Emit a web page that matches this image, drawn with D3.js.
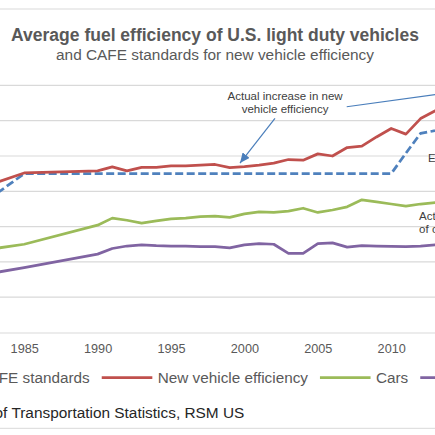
<!DOCTYPE html>
<html>
<head>
<meta charset="utf-8">
<script src="https://cdn.jsdelivr.net/npm/d3@7"></script>
<style>
body{margin:0;background:#fff;}
svg{display:block;font-family:"Liberation Sans",Arial,sans-serif;}
</style>
</head>
<body>
<svg id="viewer"></svg>
<script>
var years = [1980,1985,1990,1991,1992,1993,1994,1995,1996,1997,1998,1999,2000,2001,2002,2003,2004,2005,2006,2007,2008,2009,2010,2011,2012,2013,2014];
var cafeStandard = [20.0,27.5,27.5,27.5,27.5,27.5,27.5,27.5,27.5,27.5,27.5,27.5,27.5,27.5,27.5,27.5,27.5,27.5,27.5,27.5,27.5,27.5,27.5,30.4,33.2,33.6,34.2];
var newVehicle = [24.0,27.6,27.9,28.45,27.9,28.4,28.4,28.6,28.6,28.7,28.8,28.35,28.5,28.7,29.0,29.5,29.4,30.3,30.0,31.2,31.4,32.7,33.9,33.1,35.3,36.4,36.9];
var cars = [16.0,17.5,20.2,21.2,20.9,20.5,20.8,21.1,21.2,21.4,21.5,21.3,21.8,22.1,22.0,22.2,22.6,22.0,22.35,22.8,23.8,23.5,23.2,22.9,23.2,23.4,23.5];
var lightTrucks = [12.4,14.2,16.1,16.9,17.25,17.4,17.3,17.25,17.25,17.15,17.15,17.0,17.4,17.6,17.5,16.2,16.2,17.6,17.7,17.1,17.3,17.25,17.2,17.15,17.25,17.4,17.5];

var seriesNames = ['CAFE standards','New vehicle efficiency','Cars','Light trucks'];
var seriesColors = ['#4f81bd','#c0504d','#9bbb59','#8064a2'];
var xTicks = [1985,1990,1995,2000,2005,2010];
var yTicks = [5,10,15,20,25,30,35,40];

var series = [cafeStandard,newVehicle,cars,lightTrucks];

var chartWidth = 640;

var viewer = d3.select('#viewer')
  .attr('width',435)
  .attr('height',435);

var chart = viewer.append('g')
  .attr('transform','translate(-105,0)');

var x = d3.scaleLinear().domain([1980,2016]).range([55.8,584.3]);
var y = d3.scaleLinear().domain([5,40]).range([332.5,85.4]);

chart.append('rect')
  .attr('x',0.5)
  .attr('y',9)
  .attr('width',chartWidth-1)
  .attr('height',419.3)
  .attr('fill','none')
  .attr('stroke','#d9d9d9');

chart.append('text')
  .attr('x',chartWidth/2)
  .attr('y',40.6)
  .attr('text-anchor','middle')
  .attr('fill','#595959')
  .style('font-size','17.5px')
  .style('font-weight','bold')
  .text('Average fuel efficiency of U.S. light duty vehicles');

chart.append('text')
  .attr('x',chartWidth/2)
  .attr('y',59.5)
  .attr('text-anchor','middle')
  .attr('fill','#595959')
  .style('font-size','15.4px')
  .text('and CAFE standards for new vehicle efficiency');

// gridlines
chart.selectAll('.grid')
  .data(yTicks.slice(1))
  .enter().append('line')
    .attr('class','grid')
    .attr('x1',x.range()[0])
    .attr('x2',x.range()[1])
    .attr('y1',function(d){return y(d);})
    .attr('y2',function(d){return y(d);})
    .attr('stroke','#d9d9d9')
    .attr('stroke-width',1.2);

var xAxis = chart.append('g')
  .attr('transform','translate(0,'+y(5)+')')
  .call(d3.axisBottom(x).tickValues(xTicks).tickFormat(d3.format('d')).tickSize(0).tickPadding(11.8));
xAxis.select('.domain').attr('stroke','#d9d9d9').attr('stroke-width',1.2);
xAxis.selectAll('text')
  .attr('fill','#595959')
  .style('font-size','12.7px')
  .style('font-family','"Liberation Sans",Arial,sans-serif');

var line = d3.line()
  .x(function(d,i){return x(years[i]);})
  .y(function(d){return y(d);});

chart.selectAll('.series')
  .data(series)
  .enter().append('path')
    .attr('class','series')
    .attr('d',line)
    .attr('fill','none')
    .attr('stroke',function(d,i){return seriesColors[i];})
    .attr('stroke-width',2.75)
    .attr('stroke-linejoin','round')
    .attr('stroke-dasharray',function(d,i){return i==0 ? '8,3.5' : null;});

// annotations
chart.append('defs').append('marker')
  .attr('id','arrow')
  .attr('markerUnits','userSpaceOnUse')
  .attr('markerWidth',11)
  .attr('markerHeight',9)
  .attr('refX',10)
  .attr('refY',4.5)
  .attr('orient','auto')
  .append('path')
    .attr('d','M0,0L10,4.5L0,9Z')
    .attr('fill','#4a7ebb');

var arrows = [
  {from:[2002.08,35.34],to:[1999.7,29.0]},
  {from:[2006.97,36.98],to:[2014.0,39.0]}
];

chart.selectAll('.arrow')
  .data(arrows)
  .enter().append('line')
    .attr('class','arrow')
    .attr('x1',function(d){return x(d.from[0]);})
    .attr('y1',function(d){return y(d.from[1]);})
    .attr('x2',function(d){return x(d.to[0]);})
    .attr('y2',function(d){return y(d.to[1]);})
    .attr('stroke','#4a7ebb')
    .attr('stroke-width',1.2)
    .attr('marker-end','url(#arrow)');

var notes = [
  {year:2002.77,value:37.93,anchor:'middle',lines:['Actual increase in new','vehicle efficiency']},
  {year:2012.5,value:29.1,anchor:'start',lines:['Expected standards']},
  {year:2011.9,value:20.93,anchor:'start',lines:['Actual efficiency','of cars on the road']}
];

var noteText = chart.selectAll('.note')
  .data(notes)
  .enter().append('text')
    .attr('class','note')
    .attr('x',function(d){return x(d.year);})
    .attr('y',function(d){return y(d.value);})
    .attr('text-anchor',function(d){return d.anchor;})
    .attr('fill','#404040')
    .style('font-size','11.5px');

noteText.selectAll('tspan')
  .data(function(d){return d.lines.map(function(t){return {t:t,x:x(d.year)};});})
  .enter().append('tspan')
    .attr('x',function(d){return d.x;})
    .attr('dy',function(d,i){return i==0 ? 0 : 12.8;})
    .text(function(d){return d.t;});

// legend
var legend = chart.append('g').attr('transform','translate(26.5,0)');
var cursor = 0;
seriesNames.forEach(function(name,i){
  legend.append('line')
    .attr('x1',cursor)
    .attr('x2',cursor+50.6)
    .attr('y1',377.7)
    .attr('y2',377.7)
    .attr('stroke',seriesColors[i])
    .attr('stroke-width',2.75)
    .attr('stroke-dasharray',i==0 ? '8,3.5' : null);
  var t = legend.append('text')
    .attr('x',cursor+56)
    .attr('y',383.3)
    .attr('fill','#595959')
    .style('font-size','15.3px')
    .text(name);
  cursor += 56 + t.node().getComputedTextLength() + 12;
});

chart.append('text')
  .attr('x',349.3)
  .attr('y',418.3)
  .attr('text-anchor','end')
  .attr('fill','#262626')
  .style('font-size','15.4px')
  .text('Source: Bureau of Transportation Statistics, RSM US');
</script>
</body>
</html>
